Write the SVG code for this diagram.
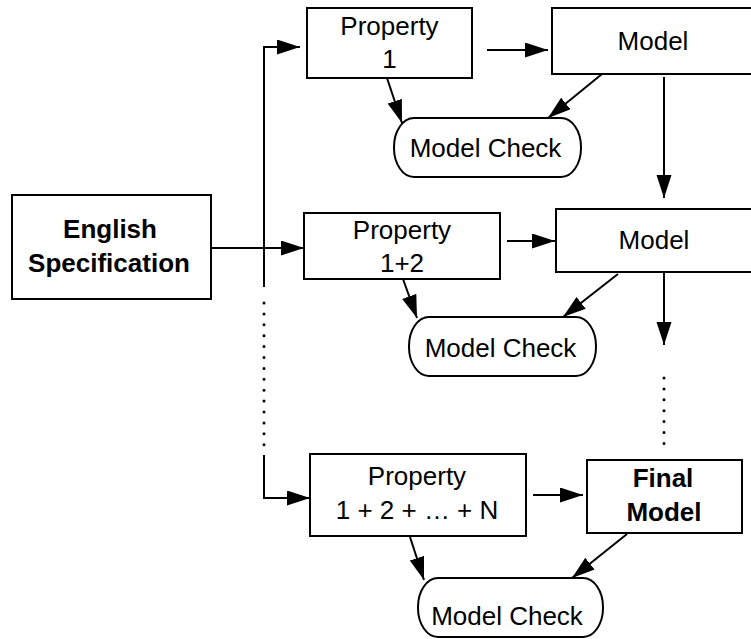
<svg xmlns="http://www.w3.org/2000/svg" width="751" height="639" viewBox="0 0 751 639">
<style>
  .box { fill: #fff; stroke: #000; stroke-width: 2; }
  .t { font-family: "Liberation Sans", Arial, Helvetica, sans-serif; font-size: 26px; fill: #000; text-anchor: middle; }
  .b { font-weight: bold; }
  .ln { fill: none; stroke: #000; stroke-width: 2; }
  .dot { fill: none; stroke: #000; stroke-width: 3; stroke-linecap: round; stroke-dasharray: 0 10.9; }
</style>
<defs>
  <marker id="ah" markerUnits="userSpaceOnUse" markerWidth="24" markerHeight="16" refX="23" refY="7.5" orient="auto">
    <path d="M0,0 L23,7.5 L0,15 Z" fill="#000"/>
  </marker>
</defs>
<rect width="751" height="639" fill="#fff"/>

<g id="connectors">
  <path class="ln" d="M211,248 H304" marker-end="url(#ah)"/>
  <path class="ln" d="M264,287 V47 H300" marker-end="url(#ah)"/>
  <path class="dot" d="M264,303 V447"/>
  <path class="ln" d="M264,455 V498 H310" marker-end="url(#ah)"/>
  <path class="ln" d="M487,50 H548" marker-end="url(#ah)"/>
  <path class="ln" d="M387,78 L402,123" marker-end="url(#ah)"/>
  <path class="ln" d="M602,74 L548,118" marker-end="url(#ah)"/>
  <path class="ln" d="M664,77 V198" marker-end="url(#ah)"/>
  <path class="ln" d="M507,241 H555" marker-end="url(#ah)"/>
  <path class="ln" d="M403,279 L417,318" marker-end="url(#ah)"/>
  <path class="ln" d="M618,274 L563,317" marker-end="url(#ah)"/>
  <path class="ln" d="M664,273 V345" marker-end="url(#ah)"/>
  <path class="dot" d="M664,378 V446"/>
  <path class="ln" d="M533,495 H583" marker-end="url(#ah)"/>
  <path class="ln" d="M627,534 L572,578" marker-end="url(#ah)"/>
  <path class="ln" d="M410,537 L424,580" marker-end="url(#ah)"/>
</g>

<g id="english-spec">
  <rect class="box" x="12" y="195" width="199" height="104"/>
  <text class="t b" x="110" y="238">English</text>
  <text class="t b" x="109" y="272">Specification</text>
</g>

<g id="property-1">
  <rect class="box" x="307" y="8" width="165" height="70"/>
  <text class="t" x="389.5" y="35">Property</text>
  <text class="t" x="389.5" y="68">1</text>
</g>

<g id="model-1">
  <rect class="box" x="552" y="8" width="205" height="66"/>
  <text class="t" x="653" y="50">Model</text>
</g>

<g id="model-check-1">
  <rect class="box" x="394" y="118" width="187" height="59" rx="20" ry="29"/>
  <text class="t" x="485.5" y="157">Model Check</text>
</g>

<g id="property-1-2">
  <rect class="box" x="304" y="213" width="196" height="66"/>
  <text class="t" x="402" y="239">Property</text>
  <text class="t" x="402" y="272">1+2</text>
</g>

<g id="model-2">
  <rect class="box" x="556" y="209" width="201" height="63"/>
  <text class="t" x="654" y="249">Model</text>
</g>

<g id="model-check-2">
  <rect class="box" x="409" y="317" width="187" height="59" rx="20" ry="29"/>
  <text class="t" x="500.5" y="357">Model Check</text>
</g>

<g id="property-n">
  <rect class="box" x="310" y="454" width="216" height="82"/>
  <text class="t" x="417" y="485">Property</text>
  <text class="t" x="417" y="519">1 + 2 + … + N</text>
</g>

<g id="final-model">
  <rect class="box" x="587" y="460" width="155" height="73"/>
  <text class="t b" x="663" y="487">Final</text>
  <text class="t b" x="664" y="521">Model</text>
</g>

<g id="model-check-3">
  <rect class="box" x="418" y="578" width="185" height="59" rx="20" ry="29"/>
  <text class="t" x="507" y="625">Model Check</text>
</g>
</svg>
